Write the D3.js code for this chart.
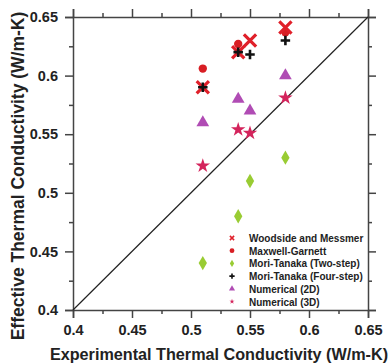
<!DOCTYPE html>
<html>
<head>
<meta charset="utf-8">
<script src="https://cdn.jsdelivr.net/npm/d3@7"></script>
<style>
  body { margin: 0; background: #fff; }
  text { font-family: "Liberation Sans", Arial, sans-serif; font-weight: bold; fill: #222; }
</style>
</head>
<body>
<div id="chart"></div>
<script>
// data
const experimental = [0.51, 0.54, 0.55, 0.58];
const woodside   = [0.590, 0.620, 0.630, 0.641];
const maxwell    = [0.606, 0.627, null, 0.637];
const moriTwo    = [0.440, 0.480, 0.510, 0.530];
const moriFour   = [0.590, 0.620, 0.618, 0.630];
const numeric2D  = [0.560, 0.580, 0.570, 0.600];
const numeric3D  = [0.523, 0.554, 0.551, 0.581];
const tickValues = [0.4, 0.45, 0.5, 0.55, 0.6, 0.65];
const minorTicks = [0.425, 0.475, 0.525, 0.575, 0.625];

const WIDTH = 389, HEIGHT = 363;
const MARGINS = {left: 73, right: 21, top: 17, bottom: 53};

const svg = d3.select("#chart").append("svg")
  .attr("width", WIDTH).attr("height", HEIGHT);

const x = d3.scaleLinear().domain([0.4, 0.65]).range([MARGINS.left, WIDTH - MARGINS.right]);
const y = d3.scaleLinear().domain([0.4, 0.65]).range([HEIGHT - MARGINS.bottom, MARGINS.top]);

const fmt = d => d3.format("")(d);

// axes: labelled bottom + left, bare top + right
function addAxis(axis, transform, labels) {
  const g = svg.append("g").attr("transform", transform);
  g.call(axis.tickValues(tickValues).tickSize(8).tickPadding(7).tickFormat(labels ? fmt : ""));
  g.call(a => a.selectAll(".tick text").style("font-size", "14.5px"));
  g.selectAll("line, path").attr("stroke", "#444").attr("stroke-width", 1.5);
  return g;
}
function addMinor(axis, transform) {
  const g = svg.append("g").attr("transform", transform);
  g.call(axis.tickValues(minorTicks).tickSize(4).tickFormat(""));
  g.select(".domain").remove();
  g.selectAll("line").attr("stroke", "#444").attr("stroke-width", 1.5);
}
const bottomT = `translate(0,${HEIGHT - MARGINS.bottom})`;
const topT = `translate(0,${MARGINS.top})`;
const leftT = `translate(${MARGINS.left},0)`;
const rightT = `translate(${WIDTH - MARGINS.right},0)`;

addAxis(d3.axisBottom(x), bottomT, true);
addAxis(d3.axisTop(x), topT, false);
addAxis(d3.axisLeft(y), leftT, true);
addAxis(d3.axisRight(y), rightT, false);
addMinor(d3.axisBottom(x), bottomT);
addMinor(d3.axisTop(x), topT);
addMinor(d3.axisLeft(y), leftT);
addMinor(d3.axisRight(y), rightT);

// 1:1 line
svg.append("line")
  .attr("x1", x(0.4)).attr("y1", y(0.4))
  .attr("x2", x(0.65)).attr("y2", y(0.65))
  .attr("stroke", "#222").attr("stroke-width", 1.2);

// series styles
const series = [
  {name: "Woodside and Messmer", vals: woodside, type: "cross", color: "#e0202a", size: 150, lsize: 18},
  {name: "Maxwell-Garnett", vals: maxwell, type: "circle", color: "#d81e24", size: 55, lsize: 18},
  {name: "Mori-Tanaka (Two-step)", vals: moriTwo, type: "diamond", color: "#99cc33", size: 60, lsize: 16},
  {name: "Mori-Tanaka (Four-step)", vals: moriFour, type: "plus", color: "#111", size: 90, lsize: 28},
  {name: "Numerical (2D)", vals: numeric2D, type: "triangle", color: "#b04cb4", size: 70, lsize: 16},
  {name: "Numerical (3D)", vals: numeric3D, type: "star", color: "#d4245c", size: 65, lsize: 8}
];

// x and + drawn as strokes
function drawMarker(g, s, size) {
  const h = Math.sqrt(size) / 2;
  if (s.type === "cross") {
    g.append("path").attr("d", `M${-h},${-h}L${h},${h}M${-h},${h}L${h},${-h}`)
      .attr("stroke", s.color).attr("stroke-width", size > 60 ? 3.2 : 1.5).attr("fill", "none");
  } else if (s.type === "plus") {
    g.append("path").attr("d", `M${-h},0L${h},0M0,${-h}L0,${h}`)
      .attr("stroke", s.color).attr("stroke-width", size > 60 ? 2.6 : 1.6).attr("fill", "none");
  } else {
    const sym = {circle: d3.symbolCircle, diamond: d3.symbolDiamond,
                 triangle: d3.symbolTriangle, star: d3.symbolStar}[s.type];
    g.append("path").attr("d", d3.symbol(sym, size)()).attr("fill", s.color);
  }
}

// draw order: circles under crosses
const drawOrder = [1, 0, 2, 3, 4, 5];
drawOrder.forEach(i => {
  const s = series[i];
  svg.append("g").selectAll("g")
    .data(experimental.map((e, j) => [e, s.vals[j]]).filter(d => d[1] != null))
    .enter().append("g")
      .attr("transform", d => `translate(${x(d[0])},${y(d[1])})`)
      .each(function() { drawMarker(d3.select(this), s, s.size); });
});

// legend
const legend = svg.append("g");
series.forEach((s, i) => {
  const row = legend.append("g").attr("transform", `translate(232,${238 + i * 12.7})`);
  drawMarker(row, s, s.lsize);
  row.append("text").attr("x", 17).attr("y", 4).style("font-size", "10px").text(s.name);
});

// axis titles
svg.append("text")
  .attr("x", 219).attr("y", 360)
  .attr("text-anchor", "middle").style("font-size", "16.2px")
  .text("Experimental Thermal Conductivity (W/m-K)");
svg.append("text")
  .attr("transform", "translate(24,176) rotate(-90)")
  .attr("text-anchor", "middle").style("font-size", "17.5px")
  .text("Effective Thermal Conductivity (W/m-K)");
</script>
</body>
</html>
